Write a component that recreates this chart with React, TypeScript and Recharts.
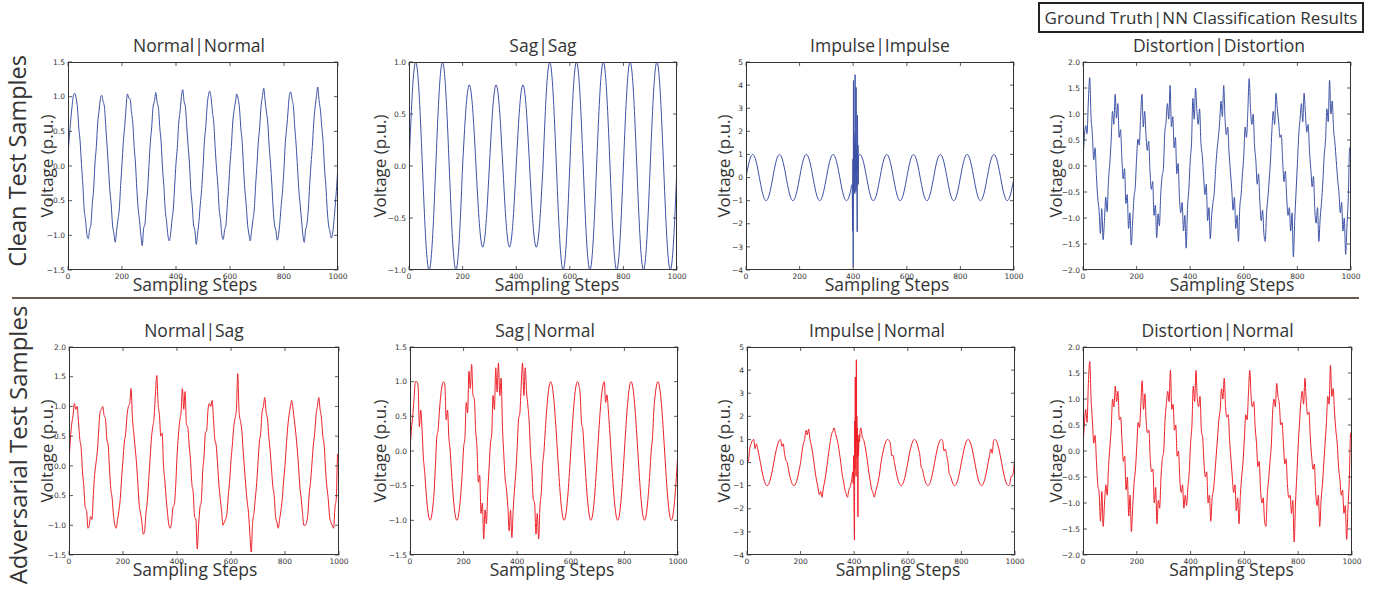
import { LineChart, Line, XAxis, YAxis } from 'recharts';

// sampling grid: one value every 5 steps, 0..1000
const STEP = 5;
const sampleSteps = Array.from({ length: 201 }, (_, i) => i * STEP);
const stepTicks = [0, 200, 400, 600, 800, 1000];

const ticksHalf15 = [-1.5, -1.0, -0.5, 0, 0.5, 1.0, 1.5];
const ticksHalf10 = [-1.0, -0.5, 0, 0.5, 1.0];
const ticksHalf20 = [-2.0, -1.5, -1.0, -0.5, 0, 0.5, 1.0, 1.5, 2.0];
const ticksHalf15to20 = [-1.5, -1.0, -0.5, 0, 0.5, 1.0, 1.5, 2.0];
const ticksInt = [-4, -3, -2, -1, 0, 1, 2, 3, 4, 5];

// ---- clean test samples ----
const normalNormal = [
  0.18, 0.42, 0.66, 0.86, 1.02, 1.05, 0.98, 0.84, 0.55, 0.35, 0.02, -0.27, -0.63, -0.78, -0.99, -1.05, -0.92, -0.84, -0.55, -0.33,
  0.04, 0.28, 0.62, 0.79, 0.97, 1.02, 0.93, 0.85, 0.56, 0.27, -0.04, -0.35, -0.56, -0.85, -0.97, -1.1, -0.93, -0.78, -0.62, -0.28,
  0.03, 0.35, 0.57, 0.84, 1.04, 0.98, 0.97, 0.78, 0.62, 0.28, 0.03, -0.34, -0.62, -0.79, -1.0, -1.15, -0.9, -0.84, -0.56, -0.34,
  0.02, 0.34, 0.56, 0.85, 0.93, 1.06, 0.92, 0.84, 0.55, 0.34, -0.03, -0.28, -0.63, -0.8, -1.0, -1.08, -0.98, -0.78, -0.62, -0.29,
  0.04, 0.27, 0.62, 0.78, 1.0, 1.1, 0.93, 0.85, 0.56, 0.28, 0.03, -0.35, -0.56, -0.85, -0.93, -1.13, -0.97, -0.8, -0.55, -0.34,
  -0.02, 0.35, 0.55, 0.85, 1.02, 1.08, 0.98, 0.78, 0.62, 0.27, -0.03, -0.28, -0.62, -0.78, -1.0, -1.06, -0.92, -0.85, -0.56, -0.3,
  0.03, 0.28, 0.62, 0.8, 0.92, 1.04, 0.97, 0.84, 0.55, 0.35, -0.02, -0.34, -0.56, -0.84, -0.98, -1.08, -0.93, -0.78, -0.62, -0.27,
  0.02, 0.35, 0.56, 0.86, 1.0, 1.12, 0.94, 0.78, 0.62, 0.29, 0.04, -0.27, -0.62, -0.85, -0.93, -1.07, -0.99, -0.8, -0.55, -0.34,
  -0.03, 0.34, 0.55, 0.79, 1.02, 1.07, 0.96, 0.85, 0.55, 0.3, -0.02, -0.35, -0.56, -0.78, -1.0, -1.1, -0.92, -0.84, -0.62, -0.28,
  0.03, 0.28, 0.62, 0.84, 1.0, 1.14, 0.94, 0.8, 0.56, 0.34, -0.03, -0.28, -0.63, -0.85, -0.94, -1.04, -0.97, -0.79, -0.55, -0.3,
  0.02,
];

const sagSag = [
  0, 0.31, 0.59, 0.81, 0.95, 1, 0.95, 0.81, 0.59, 0.31, 0, -0.31, -0.59, -0.81, -0.95, -1, -0.95, -0.81, -0.59, -0.31,
  0, 0.31, 0.59, 0.81, 0.95, 1, 0.95, 0.81, 0.59, 0.31, 0, -0.31, -0.59, -0.81, -0.95, -1, -0.95, -0.81, -0.59, -0.31,
  0, 0.24, 0.46, 0.63, 0.74, 0.78, 0.74, 0.63, 0.46, 0.24, 0, -0.24, -0.46, -0.63, -0.74, -0.78, -0.74, -0.63, -0.46, -0.24,
  0, 0.24, 0.46, 0.63, 0.74, 0.78, 0.74, 0.63, 0.46, 0.24, 0, -0.24, -0.46, -0.63, -0.74, -0.78, -0.74, -0.63, -0.46, -0.24,
  0, 0.24, 0.46, 0.63, 0.74, 0.78, 0.74, 0.63, 0.46, 0.24, 0, -0.24, -0.46, -0.63, -0.74, -0.78, -0.74, -0.63, -0.46, -0.24,
  0, 0.31, 0.59, 0.81, 0.95, 1, 0.95, 0.81, 0.59, 0.31, 0, -0.31, -0.59, -0.81, -0.95, -1, -0.95, -0.81, -0.59, -0.31,
  0, 0.31, 0.59, 0.81, 0.95, 1, 0.95, 0.81, 0.59, 0.31, 0, -0.31, -0.59, -0.81, -0.95, -1, -0.95, -0.81, -0.59, -0.31,
  0, 0.31, 0.59, 0.81, 0.95, 1, 0.95, 0.81, 0.59, 0.31, 0, -0.31, -0.59, -0.81, -0.95, -1, -0.95, -0.81, -0.59, -0.31,
  0, 0.31, 0.59, 0.81, 0.95, 1, 0.95, 0.81, 0.59, 0.31, 0, -0.31, -0.59, -0.81, -0.95, -1, -0.95, -0.81, -0.59, -0.31,
  0, 0.31, 0.59, 0.81, 0.95, 1, 0.95, 0.81, 0.59, 0.31, 0, -0.31, -0.59, -0.81, -0.95, -1, -0.95, -0.81, -0.59, -0.31,
  0,
];

const impulseImpulse = [
  0, 0.31, 0.59, 0.81, 0.95, 1, 0.95, 0.81, 0.59, 0.31, 0, -0.31, -0.59, -0.81, -0.95, -1, -0.95, -0.81, -0.59, -0.31,
  0, 0.31, 0.59, 0.81, 0.95, 1, 0.95, 0.81, 0.59, 0.31, 0, -0.31, -0.59, -0.81, -0.95, -1, -0.95, -0.81, -0.59, -0.31,
  0, 0.31, 0.59, 0.81, 0.95, 1, 0.95, 0.81, 0.59, 0.31, 0, -0.31, -0.59, -0.81, -0.95, -1, -0.95, -0.81, -0.59, -0.31,
  0, 0.31, 0.59, 0.81, 0.95, 1, 0.95, 0.81, 0.59, 0.31, 0, -0.31, -0.59, -0.81, -0.95, -1, -0.95, -0.81, -0.59, -0.31,
  0, 0.31, 0.59, 0.81, 0.95, 1, 0.95, 0.81, 0.59, 0.31, 0, -0.31, -0.59, -0.81, -0.95, -1, -0.95, -0.81, -0.59, -0.31,
  0, 0.31, 0.59, 0.81, 0.95, 1, 0.95, 0.81, 0.59, 0.31, 0, -0.31, -0.59, -0.81, -0.95, -1, -0.95, -0.81, -0.59, -0.31,
  0, 0.31, 0.59, 0.81, 0.95, 1, 0.95, 0.81, 0.59, 0.31, 0, -0.31, -0.59, -0.81, -0.95, -1, -0.95, -0.81, -0.59, -0.31,
  0, 0.31, 0.59, 0.81, 0.95, 1, 0.95, 0.81, 0.59, 0.31, 0, -0.31, -0.59, -0.81, -0.95, -1, -0.95, -0.81, -0.59, -0.31,
  0, 0.31, 0.59, 0.81, 0.95, 1, 0.95, 0.81, 0.59, 0.31, 0, -0.31, -0.59, -0.81, -0.95, -1, -0.95, -0.81, -0.59, -0.31,
  0, 0.31, 0.59, 0.81, 0.95, 1, 0.95, 0.81, 0.59, 0.31, 0, -0.31, -0.59, -0.81, -0.95, -1, -0.95, -0.81, -0.59, -0.31,
  0,
];
const impulseImpulseBurstSteps = [396, 398, 399, 400, 401, 402, 403, 404, 405, 406, 407, 408, 409, 410, 411, 412, 413, 414, 415, 416, 417, 418, 419, 420, 422];
const impulseImpulseBurstValues = [-0.3, -2.3, 0.8, -3.85, 4.2, -0.5, 1.9, -0.6, 1.4, -0.7, 4.45, 0.2, 1.6, -0.6, 3.9, -0.4, 1.2, -0.7, -2.35, 2.7, 0.3, 1.4, -0.3, 0.9, 0.97];

const distortionDistortion = [
  0.1, 0.55, 0.78, 0.62, 1.25, 1.7, 0.95, 0.6, 0.12, 0.35, -0.18, -0.62, -0.85, -1.3, -0.82, -1.42, -1.05, -0.6, -0.88, -0.28,
  0.05, 0.48, 1.05, 0.8, 1.38, 0.92, 1.2, 0.55, 0.7, 0.15, -0.25, -0.05, -0.72, -0.55, -1.2, -0.9, -1.52, -1.1, -0.62, -0.4,
  0.15, 0.52, 0.4, 0.95, 1.38, 0.75, 1.05, 0.6, 0.3, 0.48, -0.1, -0.45, -0.3, -0.95, -0.75, -1.38, -0.92, -1.15, -0.55, -0.2,
  -0.05, 0.62, 0.85, 1.2, 0.9, 1.55, 0.75, 0.95, 0.35, 0.55, -0.15, 0.05, -0.62, -0.9, -0.7, -1.25, -0.95, -1.58, -0.8, -0.45,
  0.1, 0.45, 1.3, 0.9, 1.5, 1.05, 0.8, 1.1, 0.45, 0.2, -0.2, -0.55, -0.35, -1.05, -0.8, -1.4, -0.95, -0.7, -0.5, -0.05,
  0.3, 0.55, 0.85, 1.25, 0.95, 1.55, 0.9, 0.6, 0.75, 0.25, -0.1, -0.45, -0.85, -0.6, -1.2, -0.95, -1.45, -0.8, -0.55, -0.15,
  0.2, 0.75, 0.55, 1.05, 1.68, 1.1, 0.8, 1.0, 0.4, 0.1, -0.35, -0.15, -0.7, -1.05, -0.85, -1.3, -1.45, -0.9, -0.6, -0.25,
  0.15, 0.7, 1.05, 0.8, 1.4, 1.1, 0.85, 0.55, 0.6, 0.1, -0.3, -0.1, -0.6, -0.95, -0.8, -1.25, -0.9, -1.75, -1.05, -0.5,
  0.05, 0.6, 0.9, 1.2, 0.85, 1.4, 1.0, 0.65, 0.8, 0.3, -0.05, -0.4, -0.2, -0.85, -1.1, -0.8, -1.45, -1.0, -0.7, -0.3,
  0.2, 0.5, 1.1, 0.85, 1.65, 1.0, 1.25, 0.7, 0.45, 0.1, -0.25, -0.5, -0.9, -0.7, -1.25, -1.0, -1.7, -1.15, -0.6, 0.35,
  0.05,
];

// ---- adversarial test samples ----
const normalSag = [
  0.05, 0.45, 0.7, 0.85, 1.05, 0.95, 1.0, 0.75, 0.45, 0.3, -0.1, -0.35, -0.7, -0.75, -1.05, -1.0, -0.85, -0.9, -0.5, -0.15,
  0.05, 0.25, 0.6, 0.9, 0.95, 1.0, 0.85, 0.8, 0.45, 0.35, -0.05, -0.4, -0.55, -0.85, -1.0, -1.05, -0.9, -0.75, -0.55, -0.2,
  0.1, 0.4, 0.55, 0.85, 1.0, 1.05, 1.3, 0.8, 0.55, 0.3, 0.05, -0.3, -0.65, -0.8, -0.95, -1.15, -1.1, -0.8, -0.6, -0.25,
  0.1, 0.45, 0.65, 0.8, 1.2, 1.52, 1.05, 0.85, 0.5, 0.55, 0.0, -0.25, -0.55, -0.8, -1.0, -1.05, -0.95, -0.7, -0.65, -0.35,
  0.15, 0.5, 0.75, 0.9, 1.3, 0.95, 1.25, 0.7, 0.65, 0.35, 0.1, -0.3, -0.45, -0.85, -0.9, -1.4, -1.0, -0.7, -0.6, -0.1,
  0.15, 0.55, 0.6, 0.95, 1.05, 1.0, 1.1, 0.8, 0.45, 0.35, 0.05, -0.3, -0.55, -0.75, -1.0, -0.95, -0.9, -0.8, -0.5, -0.25,
  0.1, 0.35, 0.65, 0.8, 0.95, 1.55, 0.9, 0.75, 0.6, 0.25, -0.05, -0.35, -0.6, -0.8, -1.15, -1.45, -0.95, -0.8, -0.55, -0.3,
  0.05, 0.4, 0.55, 0.9, 1.0, 1.15, 0.9, 0.8, 0.5, 0.25, -0.05, -0.35, -0.5, -0.85, -0.95, -1.05, -0.9, -0.75, -0.55, -0.25,
  0.0, 0.35, 0.65, 0.85, 1.0, 1.1, 0.95, 0.75, 0.55, 0.3, 0.0, -0.35, -0.55, -0.8, -1.0, -1.0, -0.95, -0.8, -0.45, -0.25,
  0.05, 0.35, 0.55, 0.85, 1.0, 1.15, 0.95, 0.8, 0.5, 0.35, -0.05, -0.35, -0.55, -0.85, -0.95, -1.0, -1.05, -0.7, -0.55, 0.2,
  0.0,
];

const sagNormal = [
  0, 0.3, 0.5, 0.75, 1.0, 1.0, 0.95, 0.35, 0.59, 0.31, -0.1, -0.31, -0.59, -0.81, -0.95, -1.0, -0.95, -0.81, -0.59, -0.2,
  0.2, 0.31, 0.59, 0.81, 0.95, 1.0, 0.95, 0.45, 0.59, 0.2, 0, -0.31, -0.59, -0.81, -0.95, -1.0, -0.95, -0.81, -0.59, -0.31,
  0.05, 0.2, 0.7, 0.55, 1.15, 0.9, 1.25, 0.8, 0.75, 0.3, 0.05, -0.45, -0.35, -0.9, -0.75, -1.27, -0.85, -1.05, -0.6, -0.25,
  0.1, 0.25, 0.8, 0.6, 1.2, 0.85, 1.27, 0.8, 1.05, 0.35, -0.05, -0.4, -0.55, -0.8, -1.15, -0.85, -1.25, -0.85, -0.55, -0.3,
  0.05, 0.45, 0.55, 0.95, 1.27, 0.8, 1.2, 0.85, 0.65, 0.4, -0.05, -0.3, -0.7, -0.75, -1.2, -0.9, -1.27, -0.8, -0.6, -0.2,
  0, 0.31, 0.59, 0.81, 0.95, 1.0, 0.95, 0.81, 0.59, 0.31, 0, -0.31, -0.59, -0.81, -0.95, -1.0, -0.95, -0.81, -0.59, -0.31,
  0, 0.31, 0.59, 0.81, 0.95, 1.0, 0.95, 0.81, 0.4, 0.31, 0, -0.31, -0.59, -0.81, -0.95, -1.0, -0.95, -0.81, -0.59, -0.31,
  0, 0.31, 0.59, 0.81, 0.95, 1.0, 0.7, 0.81, 0.59, 0.31, 0, -0.31, -0.59, -0.81, -0.95, -1.0, -0.95, -0.81, -0.59, -0.31,
  0, 0.31, 0.59, 0.81, 0.95, 1.0, 0.95, 0.81, 0.59, 0.31, 0, -0.31, -0.59, -0.81, -0.95, -1.0, -0.95, -0.81, -0.59, -0.31,
  0, 0.2, 0.59, 0.81, 0.95, 1.0, 0.95, 0.81, 0.59, 0.31, 0, -0.31, -0.59, -0.81, -0.95, -1.0, -0.95, -0.81, -0.59, -0.31,
  0,
];

const impulseNormal = [
  0.25, 0.05, 0.59, 0.81, 0.95, 1.0, 0.6, 0.81, 0.59, 0.31, 0, -0.31, -0.59, -0.81, -0.95, -1.0, -0.95, -0.81, -0.59, -0.31,
  0, 0.31, 0.59, 0.81, 0.95, 1.0, 0.7, 0.81, 0.4, 0.1, 0, -0.31, -0.59, -0.81, -0.95, -1.0, -0.95, -0.81, -0.59, -0.31,
  0, 0.45, 0.8, 1.0, 1.4, 1.2, 1.45, 1.0, 0.75, 0.4, 0, -0.45, -0.8, -1.1, -1.4, -1.25, -1.5, -1.1, -0.8, -0.45,
  0, 0.45, 0.85, 1.2, 1.35, 1.5, 1.25, 1.05, 0.8, 0.4, 0, -0.5, -0.8, -1.15, -1.35, -1.5, -1.2, -1.05, -0.8, -0.4,
  0, 0.45, 0.85, 1.2, 1.45, 1.5, 1.1, 1.0, 0.75, 0.4, 0, -0.45, -0.8, -1.15, -1.3, -1.5, -1.25, -1.05, -0.8, -0.45,
  0, 0.31, 0.59, 0.81, 0.95, 1.0, 0.95, 0.81, 0.3, 0.31, 0, -0.31, -0.59, -0.81, -0.95, -1.0, -0.95, -0.81, -0.59, -0.31,
  0, 0.31, 0.59, 0.81, 0.95, 1.0, 0.95, 0.81, 0.59, 0.31, -0.2, -0.31, -0.59, -0.81, -0.95, -1.0, -0.95, -0.81, -0.59, -0.31,
  0, 0.31, 0.59, 0.81, 0.95, 1.0, 0.95, 0.5, 0.59, 0.31, 0, -0.5, -0.59, -0.81, -0.95, -1.0, -0.95, -0.81, -0.59, -0.31,
  0, 0.31, 0.59, 0.81, 0.95, 1.0, 0.95, 0.81, 0.59, 0.31, 0, -0.31, -0.59, -0.81, -0.95, -1.0, -0.95, -0.81, -0.59, -0.31,
  0, 0.31, 0.59, 0.4, 0.95, 1.0, 0.95, 0.81, 0.59, 0.31, 0, -0.31, -0.59, -0.81, -0.95, -1.0, -0.95, -0.6, -0.59, -0.31,
  0.4,
];
const impulseNormalBurstSteps = [396, 398, 399, 401, 402, 403, 404, 405, 406, 407, 408, 409, 410, 411, 412, 413, 414, 415, 416, 418, 420, 422];
const impulseNormalBurstValues = [-0.9, 0.3, -1.5, -3.35, 1.8, -0.3, 3.7, 0.4, 1.9, -0.6, 4.45, 0.9, 2.0, 0.2, 1.5, -0.5, -2.35, 1.0, 0.3, 1.2, 0.9, 1.4];

const distortionNormal = [
  0.12, 0.5, 0.8, 0.55, 1.3, 1.72, 1.0, 0.58, 0.15, 0.3, -0.2, -0.65, -0.8, -1.35, -0.78, -1.45, -1.0, -0.65, -0.85, -0.3,
  0.08, 0.45, 1.0, 0.85, 1.25, 0.95, 1.15, 0.6, 0.65, 0.2, -0.2, -0.1, -0.75, -0.5, -1.25, -0.85, -1.55, -1.05, -0.6, -0.35,
  0.1, 0.55, 0.45, 0.9, 1.35, 0.8, 1.1, 0.55, 0.35, 0.4, -0.15, -0.4, -0.35, -1.0, -0.7, -1.4, -0.95, -1.1, -0.5, -0.15,
  0.0, 0.6, 0.9, 1.15, 0.95, 1.55, 0.8, 0.9, 0.4, 0.5, -0.1, 0.0, -0.55, -0.8, -0.65, -1.1, -0.85, -1.05, -0.7, -0.4,
  0.15, 0.5, 1.25, 0.95, 1.55, 1.0, 0.85, 1.05, 0.4, 0.25, -0.25, -0.5, -0.4, -1.0, -0.85, -1.35, -0.9, -0.75, -0.45, -0.1,
  0.25, 0.6, 0.8, 1.2, 1.0, 1.4, 0.85, 0.65, 0.7, 0.2, -0.15, -0.5, -0.8, -0.65, -1.15, -0.9, -1.4, -0.85, -0.5, -0.2,
  0.25, 0.7, 0.6, 1.1, 1.55, 1.05, 0.85, 0.95, 0.45, 0.15, -0.3, -0.2, -0.75, -1.0, -0.9, -1.35, -1.45, -0.85, -0.55, -0.2,
  0.1, 0.75, 1.0, 0.85, 1.3, 1.05, 0.9, 0.5, 0.55, 0.15, -0.25, -0.15, -0.65, -0.9, -0.85, -1.2, -0.95, -1.75, -1.0, -0.45,
  0.1, 0.55, 0.95, 1.15, 0.9, 1.4, 0.95, 0.7, 0.75, 0.25, -0.1, -0.35, -0.25, -0.8, -1.05, -0.85, -1.45, -0.95, -0.65, -0.25,
  0.15, 0.55, 1.05, 0.9, 1.65, 1.05, 1.2, 0.75, 0.4, 0.15, -0.3, -0.55, -0.85, -0.75, -1.2, -1.05, -1.7, -1.1, -0.55, 0.35,
  0.1,
];

const BLUE = '#3d52a6';
const RED = '#ef1f27';
const INK = '#333333';
const FONT = '"Open Sans", "Noto Sans", sans-serif';
const TICK_FONT = '"DejaVu Sans", sans-serif';

// space around each plot box reserved for ticks and their labels
const AXW = 40;
const AXH = 20;
const PAD_T = 8;
const PAD_R = 16;
const TICK_LEN = 4;

type Panel = {
  title: string;
  values: number[];
  burstSteps?: number[];
  burstValues?: number[];
  color: string;
  yDomain: [number, number];
  yTicks: number[];
  intTicks?: boolean;
  left: number;
  top: number;
  w: number;
  h: number;
  titleDx: number;
  xLabelDx: number;
  yLabelDx: number;
};

const panels: Panel[] = [
  { title: 'Normal|Normal', values: normalNormal, color: BLUE, yDomain: [-1.5, 1.5], yTicks: ticksHalf15, left: 68, top: 62, w: 270, h: 208, titleDx: -4, xLabelDx: -8, yLabelDx: -22 },
  { title: 'Sag|Sag', values: sagSag, color: BLUE, yDomain: [-1, 1], yTicks: ticksHalf10, left: 409, top: 62, w: 268, h: 208, titleDx: 0, xLabelDx: 14, yLabelDx: -30 },
  { title: 'Impulse|Impulse', values: impulseImpulse, burstSteps: impulseImpulseBurstSteps, burstValues: impulseImpulseBurstValues, color: BLUE, yDomain: [-4, 5], yTicks: ticksInt, intTicks: true, left: 746, top: 62, w: 268, h: 208, titleDx: 0, xLabelDx: 7, yLabelDx: -23 },
  { title: 'Distortion|Distortion', values: distortionDistortion, color: BLUE, yDomain: [-2, 2], yTicks: ticksHalf20, left: 1083, top: 62, w: 268, h: 208, titleDx: 2, xLabelDx: 15, yLabelDx: -28 },
  { title: 'Normal|Sag', values: normalSag, color: RED, yDomain: [-1.5, 2], yTicks: ticksHalf15to20, left: 69, top: 347, w: 270, h: 208, titleDx: -10, xLabelDx: -9, yLabelDx: -23 },
  { title: 'Sag|Normal', values: sagNormal, color: RED, yDomain: [-1.5, 1.5], yTicks: ticksHalf15, left: 410, top: 347, w: 268, h: 208, titleDx: 1, xLabelDx: 8, yLabelDx: -31 },
  { title: 'Impulse|Normal', values: impulseNormal, burstSteps: impulseNormalBurstSteps, burstValues: impulseNormalBurstValues, color: RED, yDomain: [-4, 5], yTicks: ticksInt, intTicks: true, left: 747, top: 347, w: 268, h: 208, titleDx: -4, xLabelDx: 17, yLabelDx: -24 },
  { title: 'Distortion|Normal', values: distortionNormal, color: RED, yDomain: [-2, 2], yTicks: ticksHalf20, left: 1083, top: 347, w: 269, h: 208, titleDx: 0, xLabelDx: 14, yLabelDx: -28 },
];

function buildRows(p: Panel) {
  const rows = p.values.map((v, i) => ({ step: sampleSteps[i], v }));
  if (!p.burstSteps || !p.burstValues) return rows;
  const lo = p.burstSteps[0];
  const hi = p.burstSteps[p.burstSteps.length - 1];
  const kept = rows.filter((r) => r.step < lo || r.step > hi);
  const extra = p.burstSteps.map((s, i) => ({ step: s, v: p.burstValues![i] }));
  return [...kept, ...extra].sort((a, b) => a.step - b.step);
}

const minus = (s: string) => s.replace('-', '\u2212');

function WavePanel({ p }: { p: Panel }) {
  const rows = buildRows(p);
  const fmtY = (v: number) => minus(p.intTicks ? String(v) : v.toFixed(1));
  const cx = p.left + p.w / 2;
  const cy = p.top + p.h / 2;
  const boxTop = PAD_T;
  const boxBottom = PAD_T + p.h;
  const boxLeft = AXW;
  const boxRight = AXW + p.w;

  // matplotlib-style ticks: pointing inward on all four sides of the frame
  const renderXTick = (props: any) => {
    const x = props.x;
    return (
      <g>
        <line x1={x} x2={x} y1={boxBottom} y2={boxBottom - TICK_LEN} stroke={INK} strokeWidth={0.8} />
        <line x1={x} x2={x} y1={boxTop} y2={boxTop + TICK_LEN} stroke={INK} strokeWidth={0.8} />
        <text x={x} y={boxBottom + 9} textAnchor="middle" fontSize={7.5} fill={INK} fontFamily={TICK_FONT}>
          {String(props.payload.value)}
        </text>
      </g>
    );
  };
  const renderYTick = (props: any) => {
    const y = props.y;
    return (
      <g>
        <line x1={boxLeft} x2={boxLeft + TICK_LEN} y1={y} y2={y} stroke={INK} strokeWidth={0.8} />
        <line x1={boxRight} x2={boxRight - TICK_LEN} y1={y} y2={y} stroke={INK} strokeWidth={0.8} />
        <text x={boxLeft - 3} y={y + 2.7} textAnchor="end" fontSize={7.5} fill={INK} fontFamily={TICK_FONT}>
          {fmtY(props.payload.value)}
        </text>
      </g>
    );
  };

  return (
    <>
      <div style={{ position: 'absolute', left: p.left - AXW, top: p.top - PAD_T }}>
        <LineChart width={p.w + AXW + PAD_R} height={p.h + AXH + PAD_T} data={rows}
          margin={{ top: PAD_T, right: PAD_R, bottom: 0, left: 0 }}>
          <XAxis dataKey="step" type="number" domain={[0, 1000]} allowDataOverflow ticks={stepTicks}
            height={AXH} axisLine={false} tickLine={false} tick={renderXTick} interval={0} />
          <YAxis type="number" domain={p.yDomain} allowDataOverflow ticks={p.yTicks} width={AXW}
            axisLine={false} tickLine={false} tick={renderYTick} interval={0} />
          <Line type="monotone" dataKey="v" stroke={p.color} strokeWidth={1}
            dot={false} activeDot={false} isAnimationActive={false} />
        </LineChart>
      </div>
      {/* plot frame */}
      <div style={{ position: 'absolute', left: p.left, top: p.top, width: p.w, height: p.h, boxSizing: 'border-box', border: `1px solid ${INK}`, pointerEvents: 'none' }} />
      <div style={{ position: 'absolute', left: cx + p.titleDx, top: p.top - 16, transform: 'translate(-50%, -50%)', fontSize: 17.5, color: INK, whiteSpace: 'nowrap', lineHeight: 1 }}>
        {p.title}
      </div>
      <div style={{ position: 'absolute', left: cx + p.xLabelDx, top: p.top + p.h + 15, transform: 'translate(-50%, -50%)', fontSize: 17.5, color: INK, whiteSpace: 'nowrap', lineHeight: 1 }}>
        Sampling Steps
      </div>
      <div style={{ position: 'absolute', left: p.left + p.yLabelDx, top: cy, transform: 'translate(-50%, -50%) rotate(-90deg)', fontSize: 17, color: INK, whiteSpace: 'nowrap', lineHeight: 1 }}>
        Voltage (p.u.)
      </div>
    </>
  );
}

export default function App() {
  return (
    <div style={{ position: 'relative', width: 1382, height: 591, background: '#ffffff', fontFamily: FONT, overflow: 'hidden' }}>
      <style>{'body { margin: 0; }'}</style>
      {panels.map((p) => (
        <WavePanel key={p.title} p={p} />
      ))}
      <div style={{ position: 'absolute', left: 18, top: 161, transform: 'translate(-50%, -50%) rotate(-90deg)', fontSize: 23.5, color: INK, whiteSpace: 'nowrap', lineHeight: 1 }}>
        Clean Test Samples
      </div>
      <div style={{ position: 'absolute', left: 18, top: 445, transform: 'translate(-50%, -50%) rotate(-90deg)', fontSize: 24, color: INK, whiteSpace: 'nowrap', lineHeight: 1 }}>
        Adversarial Test Samples
      </div>
      <div style={{ position: 'absolute', left: 12, top: 297, width: 1347, height: 2, background: '#6b5a4e' }} />
      <div style={{ position: 'absolute', left: 1038, top: 2, width: 322, height: 27, border: '2px solid #222', display: 'flex', alignItems: 'center', justifyContent: 'center', fontSize: 17, color: INK, whiteSpace: 'nowrap' }}>
        Ground Truth|NN Classification Results
      </div>
    </div>
  );
}
